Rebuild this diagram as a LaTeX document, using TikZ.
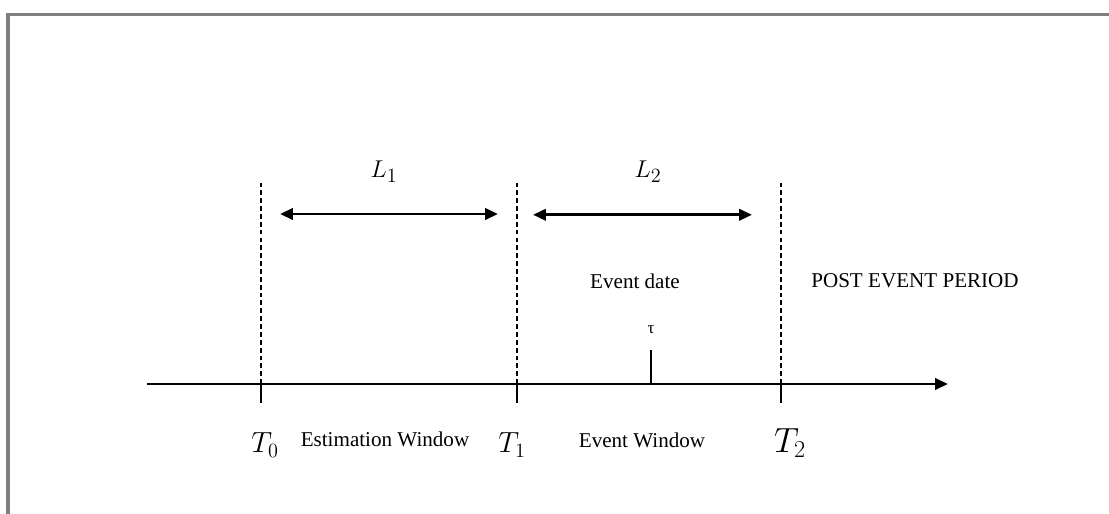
\documentclass[tikz,border=0pt]{standalone}
\usepackage{fontspec}
\setmainfont{Liberation Serif}
\usetikzlibrary{arrows.meta}
\definecolor{FrameGray}{HTML}{7F7F7F}
\definecolor{Ink}{HTML}{000000}
\tikzset{
  frameline/.style={draw=FrameGray, line width=2.2pt},
  axisline/.style={draw=Ink, line width=2pt,
                   -{Triangle[length=3.2mm, width=2.8mm]}},
  tickline/.style={draw=Ink, line width=2pt},
  guideline/.style={draw=Ink, line width=0.9pt, dash pattern=on 3.4pt off 2.2pt},
  spanarrow/.style={draw=Ink, line width=2pt,
                    {Triangle[length=3.2mm, width=2.8mm]}-{Triangle[length=3.2mm, width=2.8mm]}},
  winlab/.style={font=\fontsize{15}{18}\selectfont, text=Ink, inner sep=0pt},
  timelab/.style={font=\fontsize{20}{24}\selectfont, text=Ink, inner sep=0pt},
  spanlab/.style={font=\fontsize{19}{23}\selectfont, text=Ink, inner sep=0pt},
}

\begin{document}
\begin{tikzpicture}
    \useasboundingbox (0,0) rectangle (27.725,12.85);
    \draw[frameline] (0.2,0) -- (0.2,12.49) -- (27.8,12.49);

    % time axis
    \coordinate (ax0) at (3.675,3.25);
    \coordinate (ax1) at (23.7,3.25);
    \draw[axisline] (ax0) -- (ax1);

    % the three dates, their ticks and guides
    \coordinate (t0) at (6.525,3.25);
    \coordinate (t1) at (12.925,3.25);
    \coordinate (t2) at (19.525,3.25);
    \coordinate (tau) at (16.275,3.25);
    \foreach \p in {t0, t1, t2} {
      \draw[tickline] (\p) -- ++(0,-0.475) coordinate (\p low);
      \draw[guideline] (\p) -- ++(0,5.025) coordinate (\p top);
    }
    \draw[tickline] (tau) -- ++(0,0.85) coordinate (tautop);

    % window lengths
    \coordinate (l1a) at (7.0,7.5);
    \coordinate (l1b) at (12.45,7.5);
    \coordinate (l2a) at (13.325,7.48);
    \coordinate (l2b) at (18.8,7.48);
    \draw[spanarrow] (l1a) -- (l1b);
    \draw[spanarrow] (l2a) -- (l2b);
    \node[spanlab] (lone) at (9.6,8.55) {$L_1$};
    \node[spanlab] (ltwo) at (16.2,8.55) {$L_2$};

    \node[winlab] (evdate) at (15.875,5.825) {Event date};
    \node[winlab] (post) at (22.875,5.825) {POST EVENT PERIOD};
    \node[winlab, font=\fontsize{12}{14}\selectfont] (taulab) at (16.275,4.6) {τ};

    \node[timelab] (tzero) at (6.625,1.725) {$T_0$};
    \node[winlab] (estwin) at (9.625,1.875) {Estimation Window};
    \node[timelab] (tone) at (12.8,1.725) {$T_1$};
    \node[winlab] (evwin) at (16.05,1.85) {Event Window};
    \node[timelab, font=\fontsize{24}{28}\selectfont] (ttwo) at (19.75,1.775) {$T_2$};
  \end{tikzpicture}
\end{document}
